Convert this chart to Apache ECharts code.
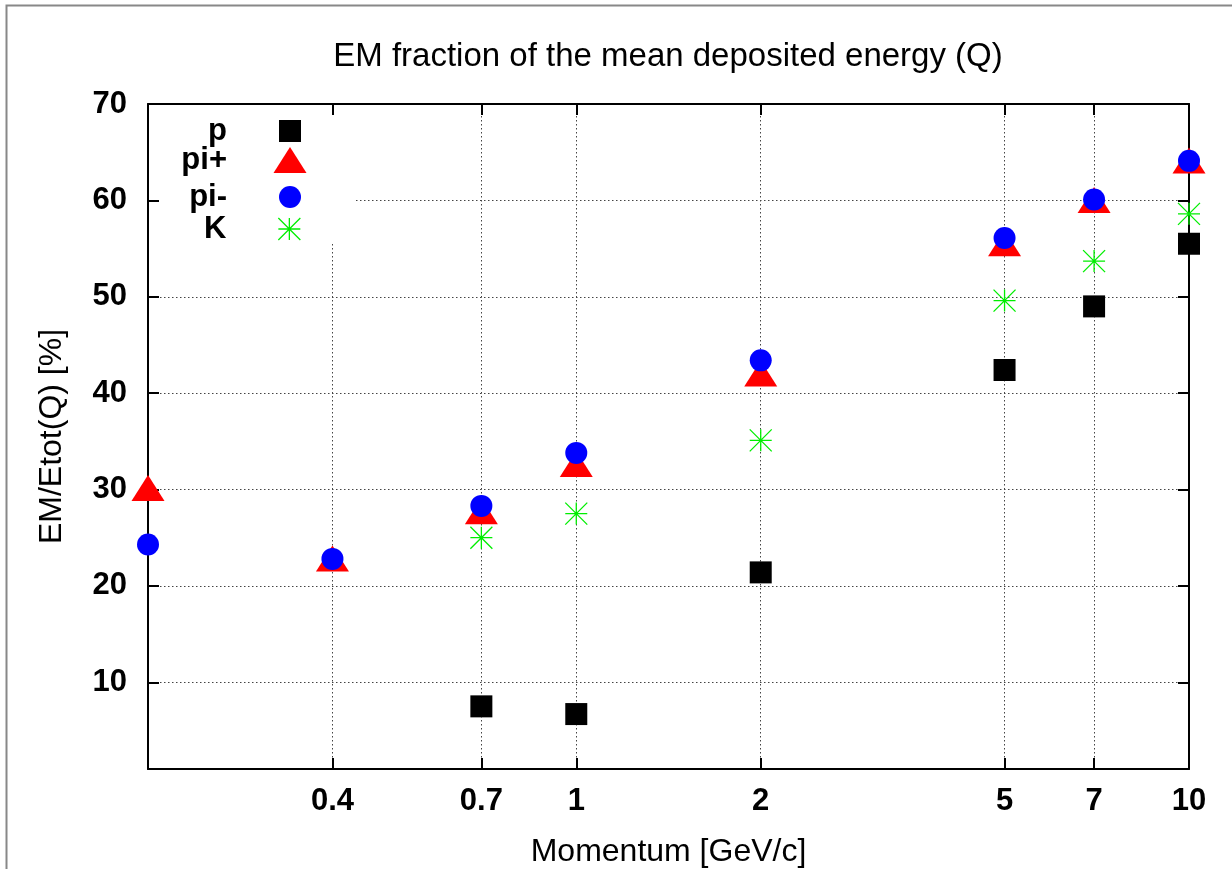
<!DOCTYPE html>
<html><head><meta charset="utf-8">
<script src="https://cdn.jsdelivr.net/npm/echarts@6/dist/echarts.min.js"></script>
<style>html,body{margin:0;padding:0;background:#fff}#c{width:1232px;height:869px}</style>
</head><body><div id="c"></div>
<script>
// ---- data ----
const momentum   = [0.2, 0.4, 0.7, 1, 2, 5, 7, 10];
const pValues    = [null, null, 7.5, 6.7, 21.4, 42.4, 49.0, 55.5];
const piPlus     = [29.7, 22.4, 27.3, 32.2, 41.6, 55.1, 59.6, 63.7];
const piMinus    = [24.3, 22.8, 28.3, 33.8, 43.4, 56.1, 60.1, 64.1];
const kValues    = [null, null, 25.0, 27.5, 35.1, 49.6, 53.7, 58.6];
const xTicks     = [0.4, 0.7, 1, 2, 5, 7, 10];
const yTicks     = [10, 20, 30, 40, 50, 60, 70];
const titleText  = 'EM fraction of the mean deposited energy (Q)';
const xName      = 'Momentum [GeV/c]';
const yName      = 'EM/Etot(Q) [%]';

// ---- styling ----
const FONT = '"Liberation Sans", Arial, Helvetica, sans-serif';
const starPath = 'path://M1,0L1,2M0,1L2,1M0,0L2,2M0,2L2,0';
function pairs(vals){ const out=[]; vals.forEach((v,i)=>{ if(v!==null) out.push([momentum[i], v]); }); return out; }
const fmt = v => String(+(+v).toPrecision(6));

const xBase = {type:'log', logBase:10, min:0.2, max:10};
const yBase = {type:'value', min:1, max:70};
const lineBlack = {color:'#000', width:2};
const tickStyle = {show:true, inside:true, length:11, lineStyle:{color:'#000', width:2}};
const gridLine = {show:true, lineStyle:{color:'#444', width:1, type:[1.5,2.5]}};

const chart = echarts.init(document.getElementById('c'), null, {renderer:'canvas'});

function legendItem(name, iconW, iconH, iconCx, rowCy, padRight, extra){
  return Object.assign({
    data:[name], orient:'vertical', align:'right', padding:0,
    right: 1232 - (iconCx + iconW/2), top: rowCy - 17,
    itemWidth: iconW, itemHeight: iconH, selectedMode:false,
    textStyle:{fontSize:31, fontWeight:'bold', color:'#000', fontFamily:FONT, lineHeight:34, padding:[0, padRight, 0, 0]}
  }, extra || {});
}

chart.setOption({
  animation:false,
  backgroundColor:'#fff',
  title:{text:titleText, left:668, top:41, textAlign:'center', padding:0,
    textStyle:{fontSize:33, fontWeight:'normal', color:'#000', fontFamily:FONT, lineHeight:32}},
  grid:{left:148, right:43, top:104, bottom:100, containLabel:false, outerBoundsMode:'none'},
  legend:[
    legendItem('p', 22, 22, 290, 131, 47, {itemStyle:{opacity:1}}),
    legendItem('pi+', 33, 26, 290, 160, 41.5, {symbolKeepAspect:false, itemStyle:{opacity:1}}),
    legendItem('pi-', 22, 22, 290, 197, 47, {itemStyle:{opacity:1}}),
    legendItem('K', 22, 22, 290, 229, 47, {itemStyle:{color:'rgba(0,0,0,0)', borderColor:'#00ee00', borderWidth:1.3, opacity:1}})
  ],
  xAxis:[
    Object.assign({}, xBase, {position:'bottom', z:3,
      axisLine:{show:true, onZero:false, lineStyle:lineBlack},
      axisTick:Object.assign({customValues:xTicks}, tickStyle),
      axisLabel:{show:true, customValues:xTicks, margin:17, fontSize:31, fontWeight:'bold', color:'#000', fontFamily:FONT, lineHeight:31, formatter:fmt},
      splitLine:{show:false},
      name:xName, nameLocation:'middle', nameGap:67,
      nameTextStyle:{fontSize:32, color:'#000', fontFamily:FONT, lineHeight:32}}),
    Object.assign({}, xBase, {position:'top', z:3,
      axisLine:{show:true, onZero:false, lineStyle:lineBlack},
      axisTick:Object.assign({customValues:xTicks}, tickStyle),
      axisLabel:{show:false}, splitLine:{show:false}}),
    Object.assign({}, xBase, {position:'bottom', z:0,
      axisLine:{show:false, onZero:false},
      axisTick:{show:false, customValues:xTicks},
      axisLabel:{show:false}, splitLine:gridLine})
  ],
  yAxis:[
    Object.assign({}, yBase, {position:'left', z:3,
      axisLine:{show:true, onZero:false, lineStyle:lineBlack},
      axisTick:Object.assign({customValues:yTicks}, tickStyle),
      axisLabel:{show:true, customValues:yTicks, margin:21, fontSize:31, fontWeight:'bold', color:'#000', fontFamily:FONT},
      splitLine:{show:false},
      name:yName, nameLocation:'middle', nameGap:80, nameRotate:90,
      nameTextStyle:{fontSize:32, color:'#000', fontFamily:FONT, lineHeight:32}}),
    Object.assign({}, yBase, {position:'right', z:3,
      axisLine:{show:true, onZero:false, lineStyle:lineBlack},
      axisTick:Object.assign({customValues:yTicks}, tickStyle),
      axisLabel:{show:false}, splitLine:{show:false}}),
    Object.assign({}, yBase, {position:'left', z:0,
      axisLine:{show:false, onZero:false},
      axisTick:{show:false, customValues:yTicks},
      axisLabel:{show:false}, splitLine:gridLine})
  ],
  graphic:[
    {type:'rect', z:1, shape:{x:150, y:106, width:205, height:137}, style:{fill:'#fff'}},
    {type:'polyline', z:10, shape:{points:[[6.5,869],[6.5,5.5],[1232,5.5]]}, style:{stroke:'#888', lineWidth:2, fill:null}}
  ],
  series:[
    {name:'p', type:'scatter', data:pairs(pValues), symbol:'rect', symbolSize:22, z:4, clip:false,
      itemStyle:{color:'#000', opacity:1}},
    {name:'pi+', type:'scatter', data:pairs(piPlus), symbol:'triangle', symbolSize:[33,26], symbolOffset:[0,-4.3], z:4, clip:false,
      itemStyle:{color:'#ff0000', opacity:1}},
    {name:'pi-', type:'scatter', data:pairs(piMinus), symbol:'circle', symbolSize:22, z:4, clip:false,
      itemStyle:{color:'#0000ff', opacity:1}},
    {name:'K', type:'scatter', data:pairs(kValues), symbol:starPath, symbolSize:22, z:4, clip:false,
      itemStyle:{color:'rgba(0,0,0,0)', borderColor:'#00ee00', borderWidth:1.3, opacity:1}}
  ]
});
</script>
</body></html>
